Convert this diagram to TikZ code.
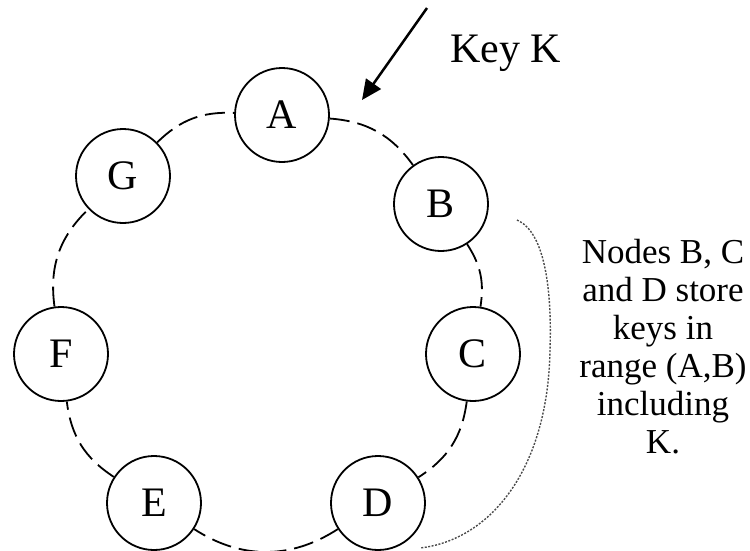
\documentclass[tikz,border=0pt]{standalone}
\usepackage{fontspec}
\setmainfont{Liberation Serif}
\usetikzlibrary{arrows.meta}
\begin{document}
\begin{tikzpicture}[x=1pt,y=-1pt,
  ringnode/.style={circle, draw, line width=1.8pt, minimum size=94pt, inner sep=0pt, font=\fontsize{42}{48}\selectfont},
  ringlink/.style={line width=1.8pt, dash pattern=on 20pt off 8pt},
  bracket/.style={gray!60!black, line width=1.4pt, dash pattern=on 2pt off 1.5pt},
  keyarrow/.style={line width=2.5pt, -{Triangle[length=20pt,width=18pt]}},
  bigtext/.style={inner sep=0pt, font=\fontsize{42}{48}\selectfont},
  notetext/.style={inner sep=0pt, align=center, font=\fontsize{35}{38}\selectfont}]
\useasboundingbox (0,0) rectangle (750,550);
\node[ringnode] (A) at (282,115) {A};
\node[ringnode] (B) at (441,204) {B};
\node[ringnode] (C) at (473,354) {C};
\node[ringnode] (D) at (378,503) {D};
\node[ringnode] (E) at (154,503) {E};
\node[ringnode] (F) at (61,354) {F};
\node[ringnode] (G) at (123,176) {G};
\draw[ringlink] (A) to[bend left=25] (B);
\draw[ringlink] (B) to[bend left=21] (C);
\draw[ringlink] (C) to[bend left=25] (D);
\draw[ringlink] (D) to[bend left=33] (E);
\draw[ringlink] (E) to[bend left=25] (F);
\draw[ringlink] (F) to[bend left=27] (G);
\draw[ringlink] (G) to[bend left=23.5] (A);
\node[bigtext, anchor=base west] (key) at (450,62) {Key K};
\coordinate (arrS) at (427,8);
\coordinate (arrE) at (362,100);
\draw[keyarrow] (arrS) -- (arrE);
\coordinate (br1) at (517,220);
\coordinate (br2) at (550,350);
\coordinate (br3) at (420,548);
\draw[bracket] (br1) .. controls (545,232) and (552,290) .. (br2) .. controls (548,470) and (490,540) .. (br3);
\node[notetext, anchor=north] (note) at (663,239) {Nodes B, C\\and D store\\keys in\\range (A,B)\\including\\K.};
\end{tikzpicture}
\end{document}
